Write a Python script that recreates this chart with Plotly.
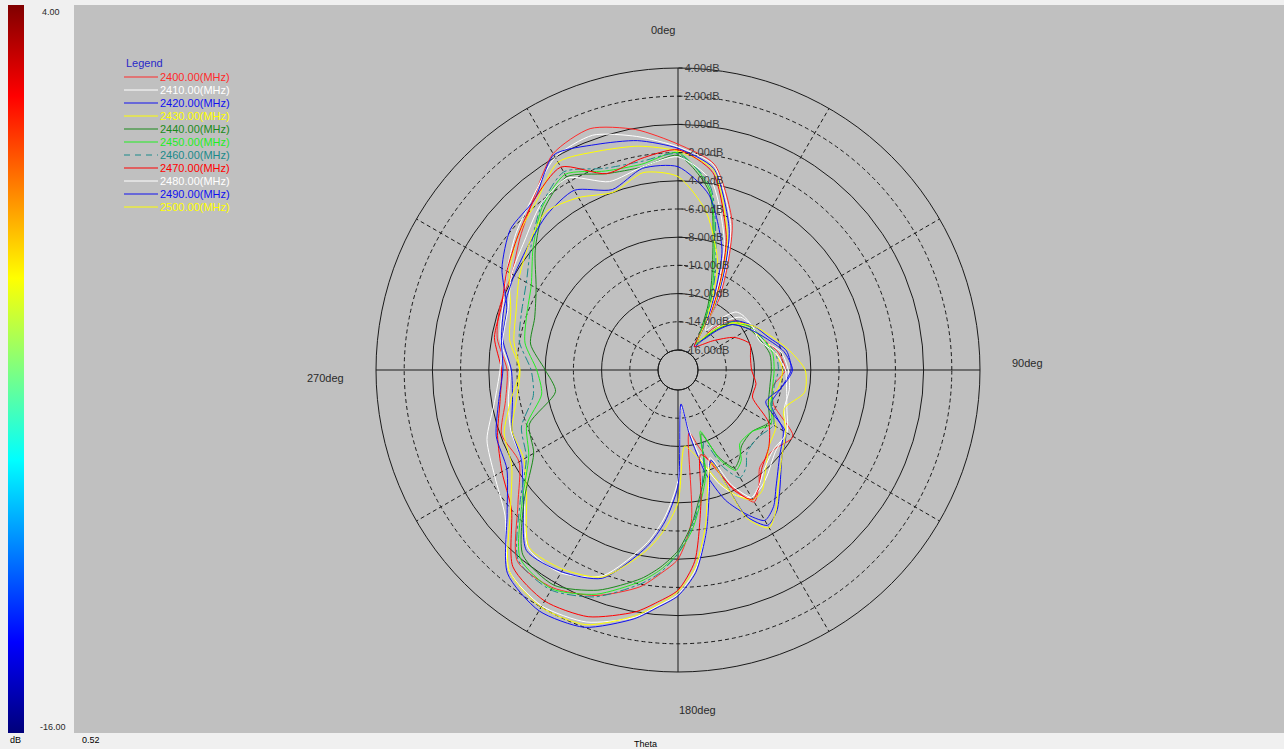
import plotly.graph_objects as go

# ---------------------------------------------------------------- data
THETA = [0, 10, 20, 25, 30, 35, 40, 45, 50, 60, 70, 80, 90, 100, 110, 120, 130, 140,
         145, 150, 155, 160, 165, 170, 175, 180, 185, 190, 200, 210, 220, 230, 240,
         250, 260, 270, 280, 290, 300, 310, 320, 330, 340, 350, 360]

FREQS = [2400, 2410, 2420, 2430, 2440, 2450, 2460, 2470, 2480, 2490, 2500]

gain_2400 = [-1.4, -2.6, -6.2, -9.0, -11.6, -15.2, -13.6, -12.6, -12.0, -11.4, -11.0, -10.2, -9.8, -10.6, -10.2, -8.0, -8.6, -8.4,
             -7.4, -6.6, -8.2, -10.2, -11.8, -12.9, -6.6, -4.0, -2.9, -1.8, -0.4, 0.4, 0.3, -2.6, -4.4,
             -4.1, -5.0, -5.3, -4.4, -4.0, -3.8, -2.8, -1.5, 0.3, 0.8, -0.1, -1.4]
gain_2410 = [-1.6, -2.7, -6.5, -9.4, -12.0, -15.3, -14.0, -12.4, -11.6, -11.3, -11.1, -10.0, -9.6, -9.4, -9.4, -8.6, -8.4, -7.6,
             -7.2, -7.0, -7.6, -8.8, -10.6, -13.2, -14.8, -9.6, -7.0, -5.0, -1.9, -0.8, -0.9, -3.2, -4.6,
             -4.8, -5.2, -5.5, -4.6, -4.2, -3.4, -2.4, -1.4, 0.0, 0.3, -0.6, -1.6]
gain_2420 = [-1.7, -2.9, -6.8, -9.6, -12.2, -15.4, -14.5, -13.0, -12.0, -11.2, -10.6, -9.6, -9.4, -10.0, -10.4, -8.8, -8.0, -6.6,
             -5.6, -5.1, -6.2, -7.6, -9.8, -12.8, -15.0, -9.2, -6.6, -4.7, -1.7, -0.9, -0.7, -3.1, -4.6,
             -4.9, -5.5, -5.6, -4.8, -4.5, -3.0, -1.9, -1.6, 0.2, -0.4, -0.9, -1.7]
gain_2430 = [-1.9, -3.0, -7.2, -10.0, -12.4, -15.2, -14.2, -13.0, -12.2, -11.6, -11.0, -10.4, -10.0, -10.2, -10.6, -9.4, -9.0, -7.8,
             -7.0, -6.8, -7.6, -9.0, -10.6, -11.5, -12.0, -8.0, -6.0, -4.4, -1.8, -1.1, -1.0, -3.4, -4.8,
             -4.9, -5.8, -6.2, -5.3, -4.8, -3.6, -2.6, -1.8, -0.4, -0.9, -1.3, -1.9]
gain_2440 = [-2.2, -4.6, -10.4, -12.4, -14.2, -15.0, -14.4, -13.2, -12.4, -11.6, -11.2, -10.8, -10.8, -10.8, -10.6, -10.0, -10.6, -10.4,
             -9.8, -9.4, -10.6, -12.6, -10.0, -8.4, -6.4, -4.6, -3.4, -2.4, -0.8, 0.2, -0.3, -3.2, -5.6,
             -6.2, -8.6, -8.0, -6.8, -6.6, -5.8, -4.2, -2.6, -1.6, -2.6, -2.8, -2.2]
gain_2450 = [-2.0, -4.4, -10.0, -12.0, -14.0, -15.2, -14.2, -13.0, -12.2, -11.4, -11.0, -10.6, -10.6, -10.6, -10.4, -9.8, -10.6, -10.6,
             -9.6, -9.2, -10.4, -12.8, -9.8, -8.0, -6.0, -4.4, -3.2, -2.2, -0.5, 0.5, 0.0, -3.0, -5.2,
             -6.0, -7.6, -7.4, -6.4, -6.0, -5.4, -4.0, -2.4, -1.4, -2.4, -2.6, -2.0]
gain_2460 = [-2.1, -4.2, -9.6, -11.8, -13.8, -15.2, -14.0, -12.8, -12.0, -11.4, -11.0, -10.4, -10.3, -10.5, -10.3, -9.6, -10.0, -9.8,
             -9.0, -8.6, -9.8, -12.0, -10.4, -8.2, -6.2, -4.4, -3.0, -2.0, -0.3, 0.6, 0.2, -2.8, -5.0,
             -5.6, -7.0, -7.0, -6.0, -5.6, -5.0, -3.8, -2.3, -1.2, -2.2, -2.4, -2.1]
gain_2470 = [-1.8, -3.2, -7.4, -10.2, -12.8, -15.4, -15.2, -14.8, -14.2, -12.8, -12.0, -12.2, -12.2, -11.8, -11.8, -10.0, -9.0, -8.2,
             -7.4, -6.8, -8.0, -10.4, -11.2, -8.0, -3.8, -1.8, -0.9, 0.0, 1.2, 1.5, 0.8, -2.0, -3.0,
             -3.8, -4.6, -4.9, -4.2, -4.1, -3.4, -2.6, -1.6, -0.8, -2.6, -2.2, -1.8]
gain_2480 = [-2.3, -3.8, -7.8, -10.6, -13.0, -14.0, -12.6, -11.6, -11.4, -11.3, -11.3, -10.4, -9.8, -9.6, -9.2, -8.5, -8.6, -8.0,
             -7.4, -7.0, -8.4, -10.8, -9.0, -5.8, -3.2, -1.5, -0.6, 0.4, 1.6, 1.9, 1.2, -1.4, -2.4,
             -3.0, -4.2, -4.8, -4.8, -4.6, -3.8, -3.2, -2.2, -1.7, -3.2, -2.8, -2.3]
gain_2490 = [-3.0, -4.8, -8.3, -11.0, -13.2, -15.0, -14.6, -13.4, -12.4, -11.6, -10.8, -9.8, -9.3, -10.0, -10.8, -8.6, -7.8, -6.2,
             -5.2, -4.7, -6.0, -10.6, -8.8, -5.8, -3.0, -1.4, -0.5, 0.5, 2.0, 2.3, 1.4, -1.6, -3.4,
             -3.7, -4.5, -5.0, -4.7, -4.3, -4.0, -3.6, -3.0, -2.7, -3.8, -2.9, -3.0]
gain_2500 = [-3.7, -6.0, -9.2, -11.5, -13.5, -15.0, -14.0, -13.0, -12.2, -11.2, -10.4, -9.4, -8.4, -8.3, -9.4, -8.6, -7.8, -6.4,
             -5.3, -4.5, -5.8, -10.4, -9.2, -6.2, -3.4, -1.7, -0.7, 0.3, 1.8, 2.0, 1.2, -1.9, -3.8,
             -4.3, -5.4, -6.2, -5.6, -5.2, -4.4, -3.6, -2.8, -3.3, -4.0, -3.2, -3.7]

GAINS = [gain_2400, gain_2410, gain_2420, gain_2430, gain_2440, gain_2450,
         gain_2460, gain_2470, gain_2480, gain_2490, gain_2500]

COLORS = ["#ff2a2a", "#ffffff", "#1010f0", "#ffff00", "#1a8a1a", "#22ee22",
          "#1a8a8a", "#ff0000", "#ffffff", "#1010f0", "#ffff00"]
DASHES = ["solid"] * 6 + ["dashdot"] + ["solid"] * 4

RING_VALUES = [4, 2, 0, -2, -4, -6, -8, -10, -12, -14, -16]
SOLID_RINGS = [4, 0, -4, -8, -12]
DASHED_RINGS = [2, -2, -6, -10, -14]
SOLID_SPOKES = [0, 90, 180, 270]
DASHED_SPOKES = [30, 60, 120, 150, 210, 240, 300, 330]
SPOKE_LABELS = ["0deg", "90deg", "180deg", "270deg"]

R_MIN, R_MAX = -16, 4
CBAR_MIN, CBAR_MAX = -16.0, 4.0

# ---------------------------------------------------------------- geometry
W, H = 1284, 749
CX, CY, R_OUT, R_HOLE = 678, 370, 302, 20
FONT = "Liberation Sans, Arial, sans-serif"
GRID = "#1a1a1a"


def px(x):
    return x / W


def py(y):
    return 1 - y / H


DOMAIN = dict(x=[px(CX - R_OUT), px(CX + R_OUT)],
              y=[py(CY + R_OUT), py(CY - R_OUT)])


def polar_layer(rings, ring_dash, spokes, spoke_dash, outline):
    return dict(
        domain=DOMAIN,
        hole=R_HOLE / R_OUT,
        bgcolor="rgba(0,0,0,0)",
        radialaxis=dict(range=[R_MIN, R_MAX], tickvals=rings, showticklabels=False,
                        ticks="", showline=False, showgrid=True, gridcolor=GRID,
                        gridwidth=1, griddash=ring_dash),
        angularaxis=dict(rotation=90, direction="clockwise", tickvals=spokes,
                         showticklabels=False, ticks="", showgrid=True,
                         gridcolor=GRID, gridwidth=1, griddash=spoke_dash,
                         showline=outline, linecolor=GRID, linewidth=1),
    )


fig = go.Figure()

# grid layers: dashed rings/spokes underneath, solid rings/spokes above them
for sub in ("polar", "polar2"):
    fig.add_trace(go.Scatterpolar(r=[R_MIN], theta=[0], mode="lines", subplot=sub,
                                  showlegend=False, hoverinfo="skip",
                                  line=dict(color="rgba(0,0,0,0)")))

for freq, gain, color, dash in zip(FREQS, GAINS, COLORS, DASHES):
    fig.add_trace(go.Scatterpolar(
        r=gain, theta=THETA, mode="lines", subplot="polar3",
        name=f"{freq:.2f}(MHz)", showlegend=False,
        line=dict(color=color, width=1, dash=dash, shape="spline", smoothing=0.7),
    ))

# colour scale strip on the left
JET = [[0.0, "#00007a"], [0.125, "#0000ff"], [0.375, "#00ffff"],
       [0.625, "#ffff00"], [0.875, "#ff0000"], [1.0, "#800000"]]
fig.add_trace(go.Scatter(
    x=[None], y=[None], mode="markers", showlegend=False, hoverinfo="skip",
    marker=dict(color=[CBAR_MIN], cmin=CBAR_MIN, cmax=CBAR_MAX, colorscale=JET,
                showscale=True,
                colorbar=dict(x=px(8), xanchor="left", y=py(5), yanchor="top",
                              len=(733 - 5) / H, lenmode="fraction",
                              thickness=16, thicknessmode="pixels",
                              xpad=0, ypad=0, outlinewidth=0,
                              showticklabels=False, ticks="")),
))

polar_top = polar_layer([], "solid", [], "solid", False)
polar_top["radialaxis"].update(
    tickvals=RING_VALUES, ticktext=[f"{v:.2f}dB" for v in RING_VALUES],
    showticklabels=True, showgrid=False, ticks="outside",
    ticklen=4, tickcolor=GRID,
    angle=90, side="clockwise", tickangle=90,
    tickfont=dict(family=FONT, size=11, color="#3a3a3a"))
polar_top["angularaxis"].update(showgrid=False)

shapes = [
    dict(type="rect", xref="paper", yref="paper", x0=0, x1=px(74), y0=0, y1=1,
         fillcolor="#f0f0f0", line_width=0, layer="below"),
    dict(type="rect", xref="paper", yref="paper", x0=0, x1=1, y0=py(5), y1=1,
         fillcolor="#f0f0f0", line_width=0, layer="below"),
    dict(type="rect", xref="paper", yref="paper", x0=0, x1=1, y0=0, y1=py(733),
         fillcolor="#f0f0f0", line_width=0, layer="below"),
    dict(type="circle", xref="paper", yref="paper",
         x0=px(CX - R_HOLE), x1=px(CX + R_HOLE), y0=py(CY + R_HOLE), y1=py(CY - R_HOLE),
         line=dict(color=GRID, width=1), fillcolor="rgba(0,0,0,0)"),
]

annotations = []


def label(text, x, y, xanchor="left", size=11, color="#2a2a2a"):
    annotations.append(dict(text=text, x=px(x), y=py(y), xref="paper", yref="paper",
                            xanchor=xanchor, yanchor="middle", showarrow=False,
                            font=dict(family=FONT, size=size, color=color)))


# legend block
label("Legend", 124, 63, color="#2828c8")
for i, (freq, color, dash) in enumerate(zip(FREQS, COLORS, DASHES)):
    y = 77 + 13 * i
    shapes.append(dict(type="line", xref="paper", yref="paper", x0=px(124), x1=px(158),
                       y0=py(y), y1=py(y),
                       line=dict(color=color, width=1,
                                 dash="6px,5px,6px,5px" if dash != "solid" else "solid")))
    label(f"{freq:.2f}(MHz)", 158, y, color=color)

# direction labels
label(SPOKE_LABELS[0], 677, 30, xanchor="right")
label(SPOKE_LABELS[1], 1010, 363)
label(SPOKE_LABELS[2], 677, 710)
label(SPOKE_LABELS[3], 346, 378, xanchor="right")

# colour scale / footer texts
label(f"{CBAR_MAX:.2f}", 40, 12, size=9)
label(f"{CBAR_MIN:.2f}", 38, 727, size=9)
label("dB", 8, 740, size=9, color="#000000")
label("0.52", 80, 740, size=9, color="#000000")
label("Theta", 632, 744, size=9, color="#000000")

fig.update_layout(
    width=W, height=H, margin=dict(l=0, r=0, t=0, b=0),
    paper_bgcolor="#c0c0c0", plot_bgcolor="rgba(0,0,0,0)",
    showlegend=False,
    xaxis=dict(visible=False), yaxis=dict(visible=False),
    polar=polar_layer(DASHED_RINGS, "4px,3px", DASHED_SPOKES, "4px,3px", False),
    polar2=polar_layer(SOLID_RINGS, "solid", SOLID_SPOKES, "solid", True),
    polar3=polar_top,
    shapes=shapes, annotations=annotations,
)

fig.write_html("out.html")
